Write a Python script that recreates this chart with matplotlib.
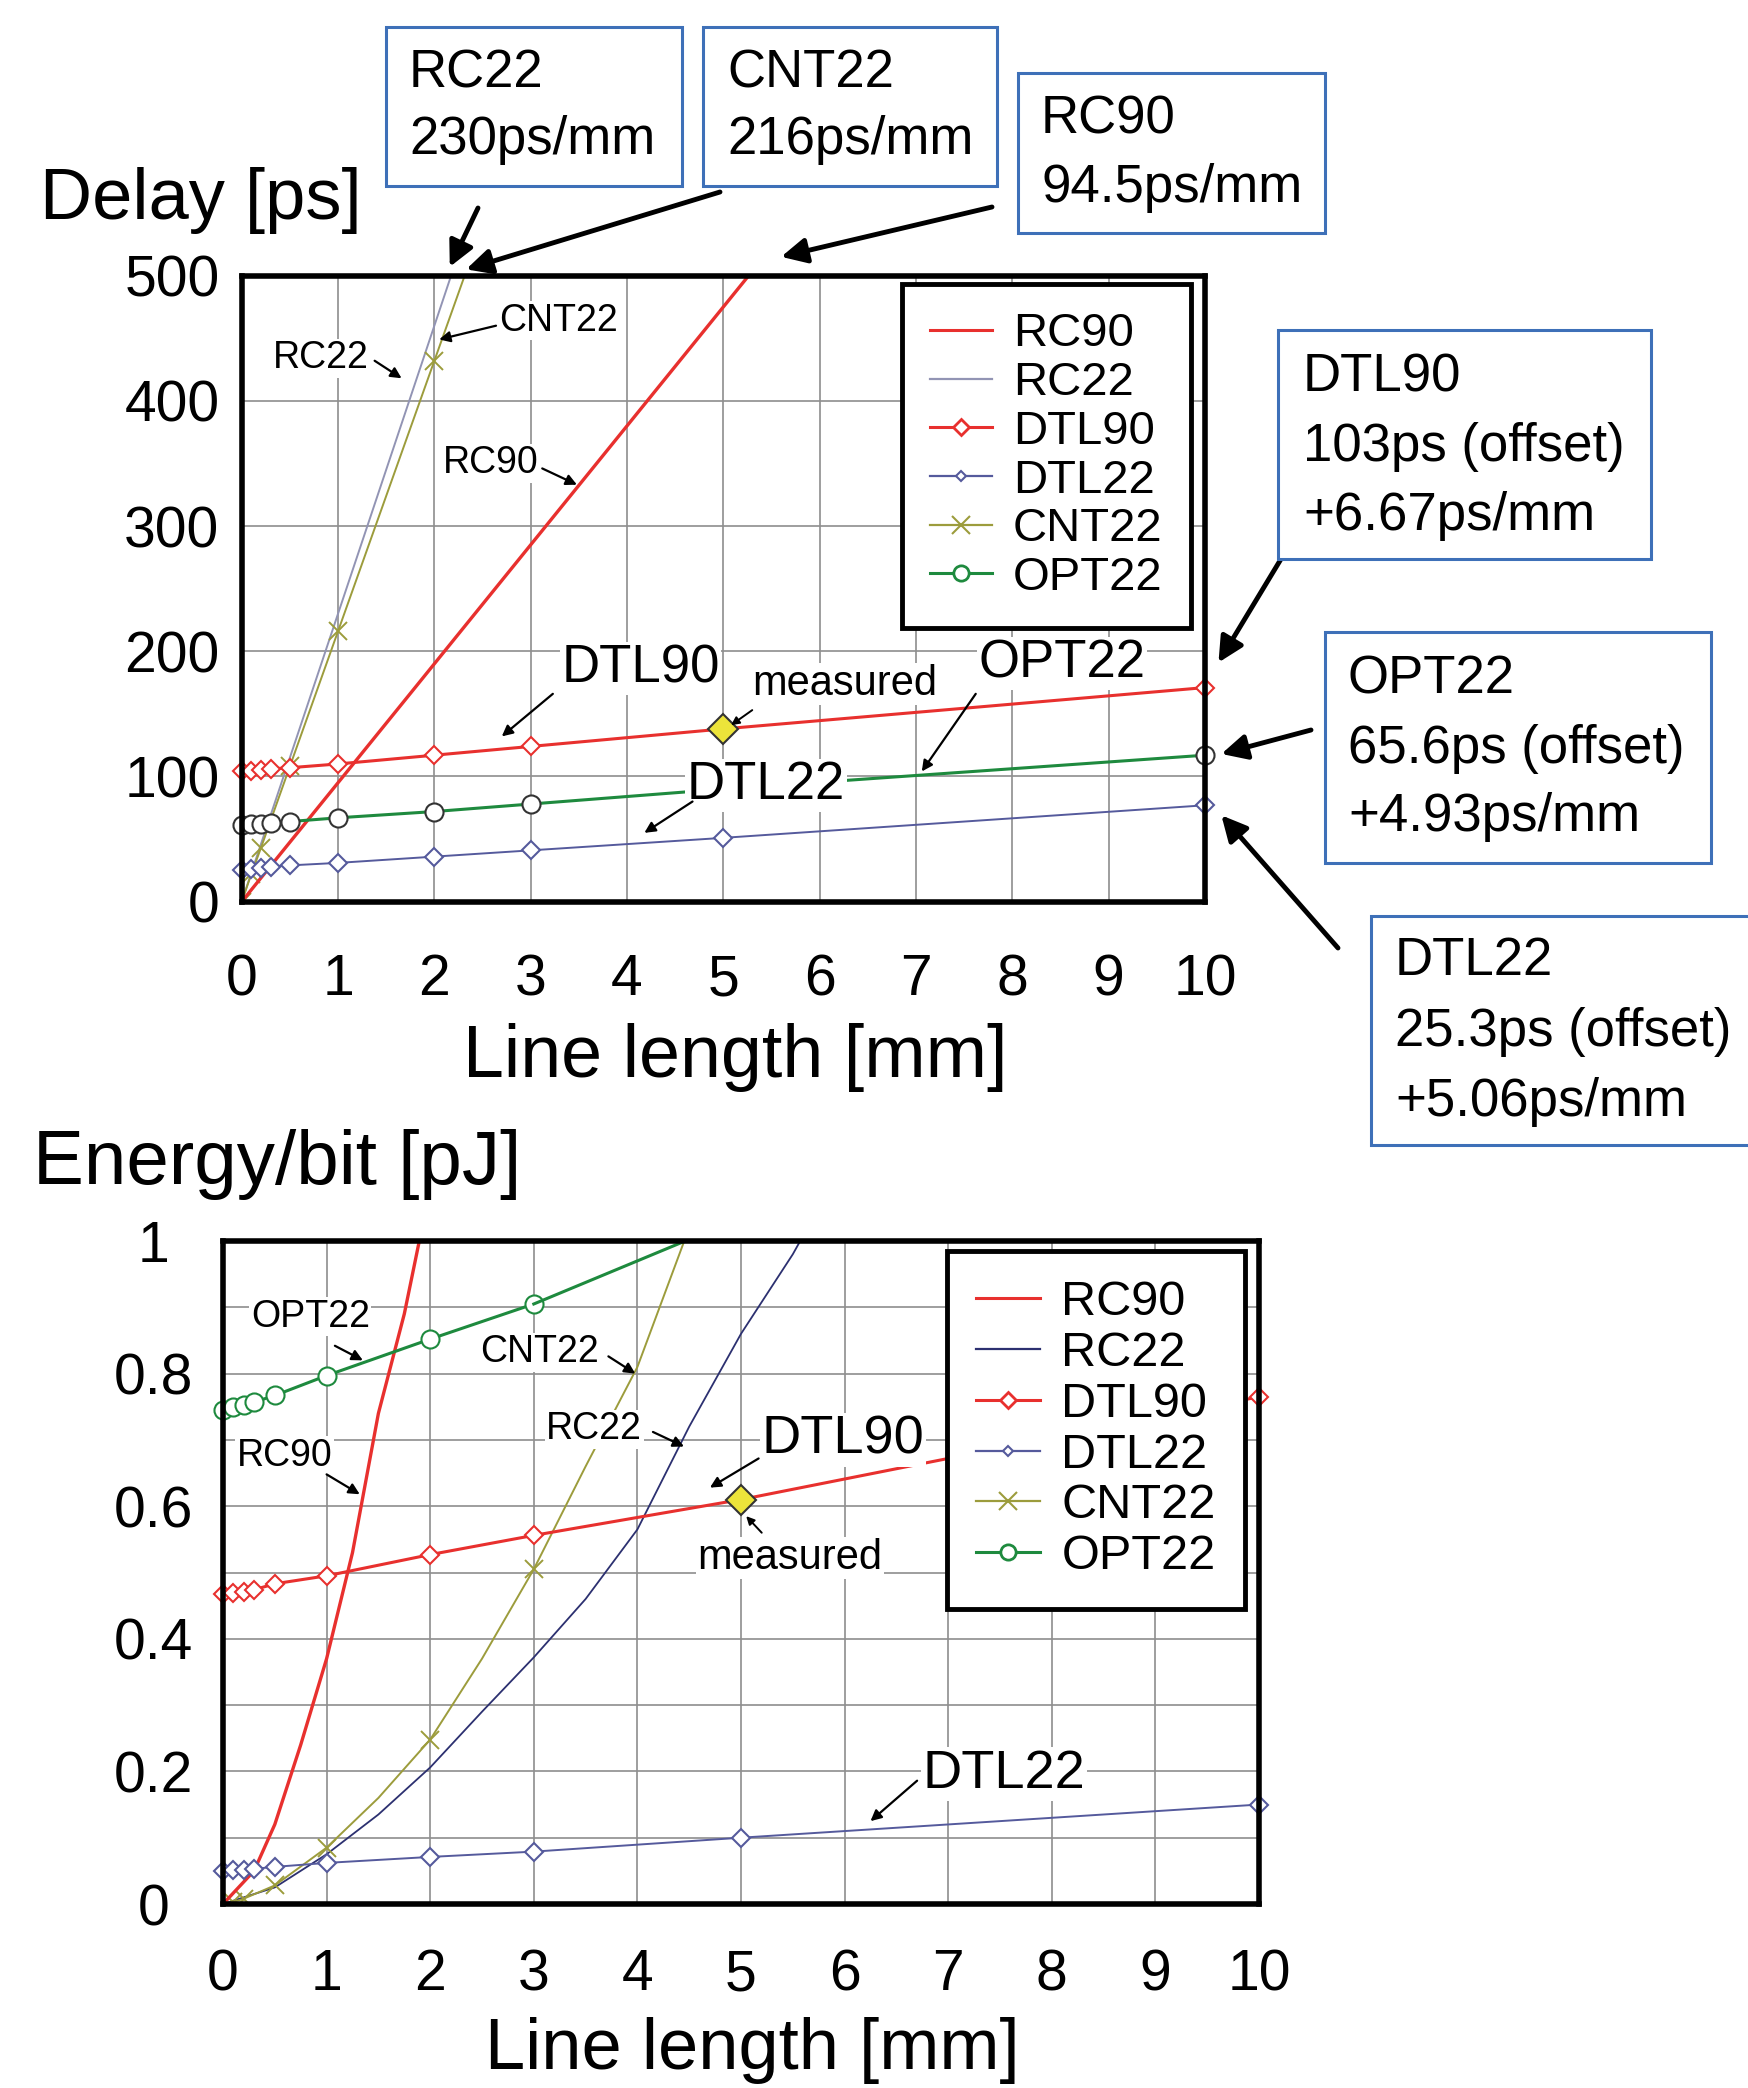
#!/usr/bin/env python

""" Delay and energy/bit versus line length for RC, DTL, CNT and optical
interconnects (two stacked panels with callout boxes). """

import matplotlib
matplotlib.use("Agg")
import matplotlib.pyplot as plt
from matplotlib.lines import Line2D
from matplotlib.patches import Rectangle

plt.rcParams['font.family'] = ['Liberation Sans', 'DejaVu Sans']

# ---- data ----
line_len = [0, 0.1, 0.2, 0.3, 0.5, 1, 2, 3, 5, 10]

delay_dtl90 = [104, 104, 105, 106, 107, 110, 117, 124, 138, 171]
delay_dtl22 = [25, 26, 27, 28, 29, 31, 36, 41, 51, 77]
delay_opt22 = [61, 62, 62, 63, 64, 67, 72, 78, 90, 117]

rc_len = [0, 1, 2, 3, 4, 5, 6]
delay_rc90 = [0, 95, 190, 285, 380, 475, 570]
delay_rc22 = [0, 230, 460, 690, 920, 1150, 1380]

cnt_len = [0, 0.1, 0.2, 0.5, 1, 2, 3]
delay_cnt22 = [0, 22, 43, 108, 216, 432, 648]

energy_dtl90 = [0.467, 0.469, 0.471, 0.474, 0.483, 0.495, 0.527, 0.556, 0.61, 0.765]
energy_dtl22 = [0.05, 0.051, 0.052, 0.053, 0.056, 0.062, 0.071, 0.079, 0.1, 0.15]
energy_opt22 = [0.745, 0.749, 0.753, 0.757, 0.767, 0.797, 0.852, 0.905, 1.035, 1.3]

rc90_e_len = [0, 0.3, 0.5, 0.75, 1, 1.25, 1.5, 1.75, 2]
energy_rc90 = [0.0, 0.05, 0.12, 0.24, 0.37, 0.53, 0.74, 0.89, 1.08]

rc22_e_len = [0, 0.5, 1, 1.5, 2, 2.5, 3, 3.5, 4, 4.5, 5, 5.5, 6]
energy_rc22 = [0, 0.025, 0.075, 0.135, 0.206, 0.29, 0.372, 0.46, 0.565, 0.72,
               0.86, 0.98, 1.12]

cnt_e_len = [0, 0.1, 0.2, 0.5, 1, 1.5, 2, 2.5, 3, 3.5, 4, 4.5, 5]
energy_cnt22 = [0, 0.003, 0.008, 0.028, 0.085, 0.16, 0.248, 0.37, 0.505, 0.66,
                0.81, 1.02, 1.15]
cnt_e_marks = [0, 1, 2, 3, 4, 6, 8]

measured_len = 5
measured_delay = 138
measured_energy = 0.61

names = ["RC90", "RC22", "DTL90", "DTL22", "CNT22", "OPT22"]

# ---- styles ----
RED = '#e8302e'
RC22_TOP = '#9294b4'
RC22_BOT = '#2c3070'
DTL22_C = '#555a9c'
CNT_C = '#9c9c3c'
OPT_C = '#1e8a3e'
BOX_C = '#3e70b8'
GRID_C = '#8e8e8e'

W, H = 1748, 2088
fig = plt.figure(figsize=(W / 100, H / 100), dpi=100)


def fx(px):
    return px / W


def fy(py):
    return 1 - py / H


def style_axes(ax, ymax):
    ax.set_xlim(0, 10)
    ax.set_ylim(0, ymax)
    ax.set_xticks(range(11))
    for s in ax.spines.values():
        s.set_linewidth(4)
        s.set_color('black')
        s.set_zorder(6)
    ax.grid(True, color=GRID_C, lw=1.2, zorder=0)
    ax.set_axisbelow(True)
    ax.tick_params(length=0, labelsize=41)


def make_legend(ax, rc22_color, anchor, fontsize, spacing):
    handles = [
        Line2D([], [], color=RED, lw=2.2),
        Line2D([], [], color=rc22_color, lw=1.6),
        Line2D([], [], color=RED, lw=2.2, marker='D', ms=8, mfc='white',
               mec=RED, mew=2),
        Line2D([], [], color=DTL22_C, lw=1.6, marker='D', ms=5.5, mfc='white',
               mec=DTL22_C, mew=1.5),
        Line2D([], [], color=CNT_C, lw=1.6, marker='x', ms=13, mew=1.5),
        Line2D([], [], color=OPT_C, lw=2.2, marker='o', ms=11, mfc='white',
               mec=OPT_C, mew=2),
    ]
    leg = ax.legend(handles, names, loc='upper right', bbox_to_anchor=anchor,
                    bbox_transform=fig.transFigure, fontsize=fontsize,
                    frameon=True, fancybox=False, framealpha=1,
                    edgecolor='black', borderpad=0.6, labelspacing=spacing,
                    handlelength=1.3, handletextpad=0.45, borderaxespad=0)
    leg.get_frame().set_linewidth(3.5)
    leg.set_zorder(10)
    return leg


def label(ax, text, xy, size, tail=None, head=None, lw=1.6, ms=16):
    ax.text(xy[0], xy[1], text, fontsize=size, ha='left', va='center',
            zorder=8, bbox=dict(facecolor='white', edgecolor='none', pad=1))
    if tail is not None:
        ax.annotate('', xy=head, xytext=tail, zorder=9,
                    arrowprops=dict(arrowstyle='-|>', color='black', lw=lw,
                                    mutation_scale=ms, shrinkA=0, shrinkB=0))


# ================= top panel: delay =================
ax1 = fig.add_axes([fx(241.7), fy(901.7), fx(963.3), 626.1 / H])
style_axes(ax1, 500)
ax1.set_yticks(range(0, 501, 100))
ax1.tick_params(axis='x', pad=37)
ax1.tick_params(axis='y', pad=16)

ax1.plot(rc_len, delay_rc22, color=RC22_TOP, lw=1.4, zorder=3)
ax1.plot(cnt_len, delay_cnt22, color=CNT_C, lw=1.4, marker='x', ms=13,
         mew=1.4, zorder=3)
ax1.plot(rc_len, delay_rc90, color=RED, lw=2.4, zorder=3)
ax1.plot(line_len, delay_dtl22, color=DTL22_C, lw=1.4, marker='D', ms=9,
         mfc='white', mec=DTL22_C, mew=1.5, zorder=4, clip_on=False)
ax1.plot(line_len, delay_opt22, color=OPT_C, lw=2.2, marker='o', ms=13,
         mfc='white', mec='#333333', mew=1.5, zorder=4, clip_on=False)
ax1.plot(line_len, delay_dtl90, color=RED, lw=2.2, marker='D', ms=9,
         mfc='white', mec=RED, mew=1.5, zorder=4, clip_on=False)
ax1.plot([measured_len], [measured_delay], marker='D', ms=15, mfc='#ece43a',
         mec='#333333', mew=1.5, zorder=7, ls='none')

make_legend(ax1, RC22_TOP, (fx(1191), fy(284)), 34, 0.1)

label(ax1, "RC22", (0.32, 434), 27, (1.38, 432), (1.66, 418))
label(ax1, "CNT22", (2.67, 464), 27, (2.64, 460), (2.05, 449))
label(ax1, "RC90", (2.09, 350), 27, (3.12, 346), (3.48, 333))
label(ax1, "DTL90", (3.32, 186), 38, (3.23, 166), (2.7, 132))
label(ax1, "measured", (5.3, 174), 30, (5.3, 153), (5.08, 141), lw=1.4, ms=12)
label(ax1, "OPT22", (7.65, 190), 38, (7.62, 166), (7.06, 104))
label(ax1, "DTL22", (4.62, 93), 38, (4.68, 80), (4.18, 55))

fig.text(fx(40), fy(200), "Delay [ps]", fontsize=52, ha='left', va='center')
fig.text(fx(735), fy(1058), "Line length [mm]", fontsize=53, ha='center',
         va='center')

# ================= bottom panel: energy/bit =================
ax2 = fig.add_axes([fx(223), fy(1904), fx(1036), 663 / H])
style_axes(ax2, 1.0)
ax2.set_yticks([i / 10 for i in range(11)])
ax2.set_yticklabels(['0', '', '0.2', '', '0.4', '', '0.6', '', '0.8', '', '1'])
ax2.tick_params(axis='x', pad=32)
ax2.tick_params(axis='y', pad=50)
for t in ax2.get_yticklabels():
    t.set_horizontalalignment('center')

ax2.plot(rc22_e_len, energy_rc22, color=RC22_BOT, lw=1.3, zorder=3)
ax2.plot(cnt_e_len, energy_cnt22, color=CNT_C, lw=1.4, marker='x', ms=13,
         mew=1.4, markevery=cnt_e_marks, zorder=3)
ax2.plot(rc90_e_len, energy_rc90, color=RED, lw=2.4, zorder=3)
ax2.plot(line_len, energy_dtl22, color=DTL22_C, lw=1.4, marker='D', ms=9,
         mfc='white', mec=DTL22_C, mew=1.5, zorder=4, clip_on=False)
ax2.plot(line_len[:8], energy_opt22[:8], color=OPT_C, lw=2.2, marker='o',
         ms=13, mfc='white', mec=OPT_C, mew=1.5, zorder=4, clip_on=False)
ax2.plot(line_len[7:], energy_opt22[7:], color=OPT_C, lw=2.2, zorder=4)
ax2.plot(line_len, energy_dtl90, color=RED, lw=2.2, marker='D', ms=9,
         mfc='white', mec=RED, mew=1.5, zorder=4, clip_on=False)
ax2.plot([measured_len], [measured_energy], marker='D', ms=15,
         mfc='#ece43a', mec='#333333', mew=1.5, zorder=7, ls='none')

make_legend(ax2, RC22_BOT, (fx(1245), fy(1251)), 35, 0.12)

label(ax2, "OPT22", (0.27, 0.886), 27, (1.08, 0.842), (1.35, 0.82))
label(ax2, "CNT22", (2.48, 0.832), 27, (3.72, 0.826), (3.98, 0.8))
label(ax2, "RC90", (0.13, 0.676), 27, (1.0, 0.648), (1.32, 0.618))
label(ax2, "RC22", (3.12, 0.716), 27, (4.15, 0.712), (4.45, 0.69))
label(ax2, "DTL90", (5.2, 0.7), 39, (5.17, 0.672), (4.7, 0.628))
label(ax2, "measured", (4.58, 0.522), 30, (5.2, 0.56), (5.05, 0.585),
      lw=1.4, ms=12)
label(ax2, "DTL22", (6.75, 0.196), 39, (6.7, 0.186), (6.25, 0.125))

fig.text(fx(33), fy(1165), "Energy/bit [pJ]", fontsize=55, ha='left',
         va='center')
fig.text(fx(752), fy(2084), "Line length [mm]", fontsize=52, ha='center',
         va='bottom')

# ================= callout boxes (figure pixels) =================
boxes = [
    ((386, 27, 682, 186), ["RC22", "230ps/mm"], [73, 140], 409),
    ((703, 27, 997, 186), ["CNT22", "216ps/mm"], [73, 140], 727),
    ((1018, 73, 1325, 233), ["RC90", "94.5ps/mm"], [120, 188], 1041),
    ((1278, 330, 1651, 559), ["DTL90", "103ps (offset)", "+6.67ps/mm"],
     [377, 447, 516], 1303),
    ((1325, 632, 1711, 863), ["OPT22", "65.6ps (offset)", "+4.93ps/mm"],
     [679, 749, 817], 1348),
    ((1371, 916, 1770, 1145), ["DTL22", "25.3ps (offset)", "+5.06ps/mm"],
     [961, 1032, 1102], 1395),
]
for (x0, y0, x1, y1), lines, ys, tx in boxes:
    fig.add_artist(Rectangle((fx(x0), fy(y1)), fx(x1 - x0), (y1 - y0) / H,
                             transform=fig.transFigure, facecolor='white',
                             edgecolor=BOX_C, lw=2.2, zorder=5))
    for txt, ty in zip(lines, ys):
        fig.text(fx(tx), fy(ty), txt, fontsize=38, ha='left', va='center',
                 zorder=6)

# arrows from boxes to curves: (head in data coords, tail in figure pixels)
big_arrows = [
    ((2.16, 507), (478, 208)),
    ((2.33, 505), (720, 192)),
    ((5.6, 515), (992, 207)),
    ((10.14, 191), (1281, 559)),
    ((10.17, 118), (1311, 730)),
    ((10.17, 69), (1338, 948)),
]
for head, tail in big_arrows:
    ax1.annotate('', xy=head, xytext=(fx(tail[0]), fy(tail[1])),
                 textcoords='figure fraction', annotation_clip=False,
                 zorder=9,
                 arrowprops=dict(arrowstyle='-|>', color='black', lw=3.5,
                                 mutation_scale=38, shrinkA=0, shrinkB=0))

fig.savefig("out.png", dpi=100, facecolor='white')
